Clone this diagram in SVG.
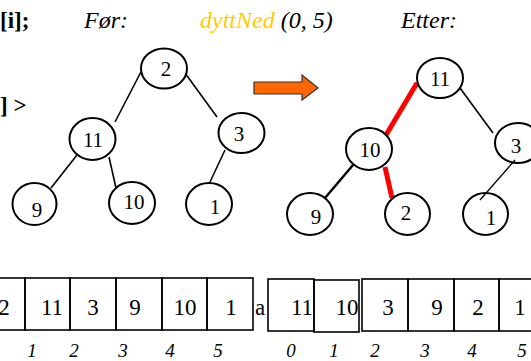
<svg xmlns="http://www.w3.org/2000/svg" width="531" height="361" viewBox="0 0 531 361" font-family="'Times New Roman', 'Liberation Serif', Times, 'Noto Serif', 'DejaVu Serif', serif">
<style>
text{font-family:'Times New Roman','Liberation Serif',Times,'Noto Serif','DejaVu Serif',serif;fill:#000}
.lbl{font-size:24px;font-style:italic}
.b{font-size:23px;font-weight:bold}
.n{font-size:21px;text-anchor:middle}
.c{font-size:23px;text-anchor:middle}
.i{font-size:19px;font-style:italic;text-anchor:middle}
ellipse{fill:#fff;stroke:#000;stroke-width:2}
.e{stroke:#000;stroke-width:1.6;fill:none}
.r{stroke:#f00;stroke-width:5;fill:none}
rect{fill:none;stroke:#000;stroke-width:1.6}
</style>
<text class="b" x="0" y="28">[i];</text>
<text class="b" x="0" y="113">] &gt;</text>
<text class="lbl" x="84" y="28">Før:</text>
<text class="lbl" x="200" y="28"><tspan fill="#FFCC00">dyttNed</tspan> (0, 5)</text>
<text class="lbl" x="401" y="28">Etter:</text>
<g id="connectors">
<line class="e" x1="143" y1="68" x2="115" y2="122"/>
<line class="e" x1="185" y1="73" x2="217" y2="117"/>
<line class="e" x1="77" y1="155" x2="51" y2="188"/>
<line class="e" x1="109" y1="157" x2="116" y2="188"/>
<line class="e" x1="225" y1="150" x2="210" y2="182"/>
<line class="r" x1="417" y1="83" x2="386" y2="135"/>
<line class="r" x1="385" y1="167" x2="392" y2="198"/>
<line class="e" style="stroke-width:2.4" x1="353" y1="165" x2="325" y2="198"/>
<line class="e" x1="460" y1="88" x2="493" y2="133"/>
</g>
<g id="arrow"><polygon points="254,82 302,82 302,75 318,88 302,100 302,94 254,94" fill="#FF6600" stroke="#333" stroke-width="1.2"/></g>
<g id="L2"><ellipse cx="164" cy="68.5" rx="23" ry="20"/><text class="n" x="166" y="76">2</text></g>
<g id="L11"><ellipse cx="92.5" cy="139" rx="23" ry="21"/><text class="n" x="93" y="147">11</text></g>
<g id="L3"><ellipse cx="241.5" cy="133" rx="23" ry="20"/><text class="n" x="239" y="141">3</text></g>
<g id="L9"><ellipse cx="34.5" cy="204" rx="22" ry="21"/><text class="n" x="37" y="217">9</text></g>
<g id="L10"><ellipse cx="132" cy="203" rx="23" ry="21"/><text class="n" x="134" y="209">10</text></g>
<g id="L1"><ellipse cx="209" cy="204" rx="23" ry="21"/><text class="n" x="215" y="214">1</text></g>
<g id="R11"><ellipse cx="440" cy="78" rx="23" ry="20"/><text class="n" x="440" y="86">11</text></g>
<g id="R10"><ellipse cx="369" cy="149" rx="23" ry="21"/><text class="n" x="370" y="157">10</text></g>
<g id="R3"><ellipse cx="518" cy="143" rx="23" ry="20"/><text class="n" x="516" y="153">3</text></g>
<g id="R9"><ellipse cx="310" cy="214" rx="23" ry="21"/><text class="n" x="316" y="224">9</text></g>
<g id="R2"><ellipse cx="407.5" cy="214" rx="22.5" ry="21"/><text class="n" x="406" y="220">2</text></g>
<g id="R1"><ellipse cx="485.5" cy="214" rx="22.5" ry="21"/><text class="n" x="491" y="225">1</text></g>
<line class="e" style="stroke-width:1.3" x1="515" y1="160" x2="480" y2="200"/>
<g id="arrA">
<rect x="-21" y="278" width="46" height="52"/>
<rect x="25" y="278" width="45" height="52"/>
<rect x="70" y="278" width="46" height="52"/>
<rect x="116" y="278" width="46" height="52"/>
<rect x="162" y="278" width="45" height="52"/>
<rect x="207" y="278" width="46" height="52"/>
<text class="c" x="4" y="315">2</text>
<text class="c" x="52" y="315">11</text>
<text class="c" x="93" y="315">3</text>
<text class="c" x="135" y="315">9</text>
<text class="c" x="185" y="315">10</text>
<text class="c" x="231" y="315">1</text>
<text class="c" x="260" y="315">a</text>
</g>
<g id="arrB">
<rect x="268" y="279" width="46" height="52"/>
<rect x="314" y="280" width="45" height="52"/>
<rect x="362" y="279" width="46" height="52"/>
<rect x="408" y="279" width="46" height="52"/>
<rect x="454" y="279" width="45" height="52"/>
<rect x="499" y="279" width="46" height="52"/>
<text class="c" x="302" y="315">11</text>
<text class="c" x="347" y="315">10</text>
<text class="c" x="388" y="315">3</text>
<text class="c" x="437" y="315">9</text>
<text class="c" x="478" y="315">2</text>
<text class="c" x="520" y="315">1</text>
</g>
<g id="idx">
<text class="i" x="32" y="357">1</text>
<text class="i" x="74" y="357">2</text>
<text class="i" x="123" y="357">3</text>
<text class="i" x="170" y="357">4</text>
<text class="i" x="218" y="357">5</text>
<text class="i" x="291" y="357">0</text>
<text class="i" x="334" y="357">1</text>
<text class="i" x="375" y="357">2</text>
<text class="i" x="425" y="357">3</text>
<text class="i" x="472" y="357">4</text>
<text class="i" x="522" y="357">5</text>
</g>
</svg>
